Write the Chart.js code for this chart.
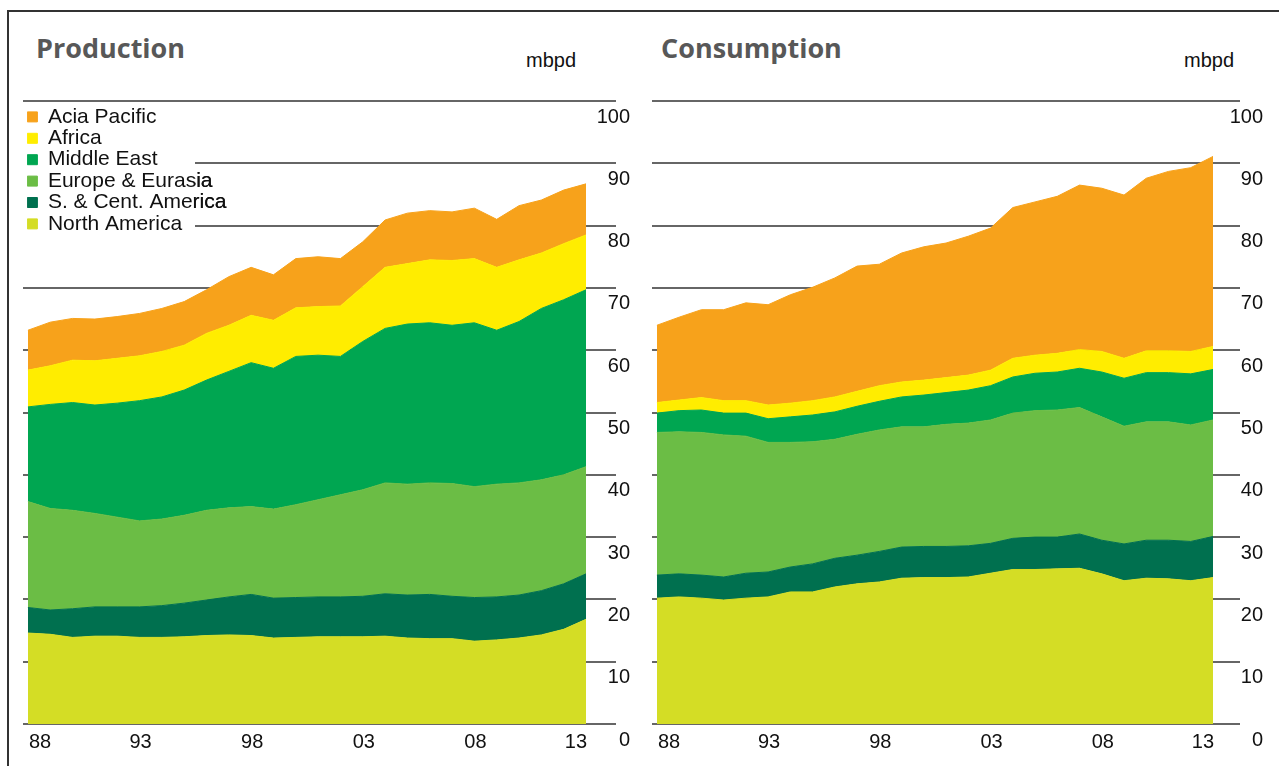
<!DOCTYPE html>
<html>
<head>
<meta charset="utf-8">
<title>Oil production and consumption</title>
<style>
  html, body { margin: 0; padding: 0; background: #fff; }
  body { width: 1279px; height: 766px; position: relative; overflow: hidden; }
  .frame { position: absolute; left: 7px; top: 10px; width: 1272px; height: 756px;
    border-top: 2px solid #333; border-left: 2px solid #333; box-sizing: border-box; }
  .title { position: absolute; font-family: "Open Sans", sans-serif; font-weight: bold;
    font-size: 27px; line-height: 1; color: #585858; white-space: nowrap; }
  .unit { position: absolute; font-family: "Liberation Sans", Arial, sans-serif;
    font-size: 20px; line-height: 1; color: #111; }
  canvas { position: absolute; }
</style>
</head>
<body>
<div class="frame"></div>
<div class="title" style="left:36px; top:34px;">Production</div>
<div class="unit" style="left:526px; top:50px;">mbpd</div>
<div class="title" style="left:661px; top:34px;">Consumption</div>
<div class="unit" style="left:1184px; top:50px;">mbpd</div>

<canvas id="prodChart" width="631" height="753" style="left:9px; top:13px;"></canvas>
<canvas id="consChart" width="637" height="753" style="left:642px; top:13px;"></canvas>

<script src="https://cdn.jsdelivr.net/npm/chart.js"></script>
<script>
  var years = [1988, 1989, 1990, 1991, 1992, 1993, 1994, 1995, 1996, 1997, 1998, 1999, 2000,
    2001, 2002, 2003, 2004, 2005, 2006, 2007, 2008, 2009, 2010, 2011, 2012, 2013];
  var tickYears = [1988, 1993, 1998, 2003, 2008, 2013];
  var yTicks = [0, 10, 20, 30, 40, 50, 60, 70, 80, 90, 100];

  var regions = ['North America', 'S. & Cent. America', 'Europe & Eurasia', 'Middle East', 'Africa', 'Acia Pacific'];
  var colors = ['#D4DD25', '#00704F', '#6BBD45', '#00A651', '#FFED00', '#F7A21B'];

  // production, mbpd
  var prodNorthAmerica = [14.6, 14.4, 13.9, 14.1, 14.1, 13.9, 13.9, 14.0, 14.2, 14.3, 14.2, 13.8, 13.9,
    14.0, 14.0, 14.0, 14.1, 13.8, 13.7, 13.7, 13.3, 13.5, 13.8, 14.3, 15.2, 16.8];
  var prodSCAmerica = [4.1, 3.9, 4.6, 4.7, 4.7, 4.9, 5.1, 5.4, 5.7, 6.1, 6.6, 6.4, 6.4,
    6.4, 6.4, 6.5, 6.8, 6.9, 7.1, 6.8, 7.0, 6.9, 6.9, 7.1, 7.3, 7.3];
  var prodEurope = [17.0, 16.3, 15.8, 15.0, 14.4, 13.8, 13.9, 14.1, 14.4, 14.3, 14.1, 14.3, 14.9,
    15.6, 16.4, 17.1, 17.8, 17.8, 17.9, 18.1, 17.8, 18.1, 18.0, 17.8, 17.5, 17.2];
  var prodMiddleEast = [15.2, 16.7, 17.3, 17.4, 18.3, 19.3, 19.6, 20.1, 20.9, 21.9, 23.1, 22.6, 23.8,
    23.2, 22.2, 23.8, 24.8, 25.7, 25.7, 25.4, 26.3, 24.7, 25.9, 27.5, 28.1, 28.4];
  var prodAfrica = [5.9, 6.2, 6.8, 7.1, 7.2, 7.2, 7.3, 7.2, 7.5, 7.4, 7.6, 7.7, 7.8,
    7.8, 8.1, 8.8, 9.8, 9.7, 10.1, 10.4, 10.3, 10.1, 9.9, 8.9, 9.0, 8.8];
  var prodAsia = [6.4, 7.0, 6.7, 6.7, 6.7, 6.8, 6.9, 7.0, 7.0, 7.8, 7.7, 7.3, 7.9,
    8.0, 7.6, 7.2, 7.6, 8.1, 7.9, 7.8, 8.1, 7.7, 8.7, 8.5, 8.6, 8.2];

  // consumption, mbpd
  var consNorthAmerica = [20.2, 20.4, 20.2, 19.9, 20.2, 20.4, 21.2, 21.2, 22.0, 22.5, 22.8, 23.4, 23.5,
    23.5, 23.6, 24.2, 24.8, 24.8, 24.9, 25.0, 24.1, 23.0, 23.4, 23.3, 23.0, 23.5];
  var consSCAmerica = [3.7, 3.7, 3.7, 3.7, 4.0, 4.0, 4.0, 4.5, 4.6, 4.6, 4.9, 5.0, 5.0,
    5.0, 5.0, 4.8, 5.0, 5.2, 5.1, 5.5, 5.4, 5.9, 6.1, 6.2, 6.3, 6.6];
  var consEurope = [22.9, 22.8, 22.9, 22.8, 22.0, 20.8, 20.0, 19.6, 19.1, 19.4, 19.5, 19.3, 19.2,
    19.6, 19.7, 19.8, 20.1, 20.3, 20.4, 20.3, 19.8, 18.9, 19.0, 19.0, 18.7, 18.7];
  var consMiddleEast = [3.1, 3.4, 3.6, 3.5, 3.7, 3.8, 4.1, 4.3, 4.4, 4.5, 4.6, 4.8, 5.1,
    5.1, 5.3, 5.5, 5.8, 6.0, 6.1, 6.3, 7.2, 7.7, 7.9, 7.9, 8.2, 8.1];
  var consAfrica = [1.7, 1.7, 2.0, 2.0, 2.0, 2.2, 2.2, 2.3, 2.4, 2.4, 2.5, 2.4, 2.4,
    2.4, 2.4, 2.5, 3.0, 2.9, 3.0, 3.0, 3.3, 3.2, 3.5, 3.5, 3.6, 3.7];
  var consAsia = [12.4, 13.3, 14.1, 14.6, 15.7, 16.1, 17.4, 18.2, 19.1, 20.1, 19.5, 20.7, 21.4,
    21.6, 22.3, 22.8, 24.2, 24.6, 25.2, 26.4, 26.2, 26.2, 27.7, 28.8, 29.5, 30.5];

  var textFont = 'Liberation Sans, Arial, sans-serif';

  // keeps the legend inside the plot (top left) and puts a white box behind it,
  // so the grid lines stop at the text
  var legendBackdrop = {
    id: 'legendBackdrop',
    afterLayout: function (chart) {
      var lg = chart.legend;
      if (!lg || !lg.options.display) return;
      var h = lg.bottom - lg.top;
      var w = lg.right - lg.left;
      lg.top = chart.chartArea.top + 5;
      lg.bottom = lg.top + h;
      lg.left = chart.chartArea.left + 4;
      lg.right = lg.left + w;
      lg.adjustHitBoxes();
    },
    beforeDatasetsDraw: function (chart) {
      var lg = chart.legend;
      if (!lg || !lg.options.display || !lg.legendHitBoxes || !lg.legendHitBoxes.length) return;
      var hb = lg.legendHitBoxes;
      var top = hb[0].top - 2;
      var bottom = hb[hb.length - 1].top + hb[hb.length - 1].height + 3;
      var ctx = chart.ctx;
      ctx.save();
      ctx.fillStyle = '#fff';
      ctx.fillRect(chart.chartArea.left - 1, top, 173, bottom - top);
      ctx.restore();
      lg.draw();
    }
  };

  function makeChart(id, series, opts) {
    var datasets = series.map(function (vals, i) {
      return {
        label: regions[i],
        data: years.map(function (yr, k) { return { x: yr, y: vals[k] }; }),
        backgroundColor: colors[i],
        borderColor: colors[i],
        borderWidth: 1,
        pointRadius: 0,
        tension: 0,
        fill: i === 0 ? 'origin' : '-1'
      };
    });

    return new Chart(document.getElementById(id), {
      type: 'line',
      data: { datasets: datasets },
      plugins: [legendBackdrop],
      options: {
        responsive: false,
        animation: false,
        layout: { padding: opts.padding },
        plugins: {
          tooltip: { enabled: false },
          legend: {
            display: opts.legend,
            position: 'chartArea',
            align: 'start',
            reverse: true,
            labels: {
              boxWidth: 10,
              boxHeight: 10,
              padding: 0.4,
              color: '#111',
              font: { size: 21, family: textFont }
            }
          }
        },
        scales: {
          x: {
            type: 'linear',
            min: 1987.78,
            max: 2013,
            grid: { display: false },
            border: { display: false },
            afterBuildTicks: function (s) {
              s.ticks = tickYears.map(function (v) { return { value: v }; });
            },
            afterFit: function (s) { s.height = 30; },
            ticks: {
              align: 'inner',
              autoSkip: false,
              maxRotation: 0,
              padding: -2,
              labelOffset: 1,
              color: '#111',
              font: { size: 20, family: textFont },
              callback: function (v) { return String(v).slice(2); }
            }
          },
          y: {
            stacked: true,
            position: 'right',
            min: 0,
            max: 100,
            border: { display: false },
            grid: { color: '#666', lineWidth: 2, tickLength: opts.tickLength },
            afterBuildTicks: function (s) {
              s.ticks = yTicks.map(function (v) { return { value: v }; });
            },
            afterFit: function (s) { s.width = opts.axisWidth; },
            ticks: {
              padding: opts.tickPadding,
              crossAlign: 'far',
              labelOffset: 16,
              color: '#111',
              font: { size: 20, family: textFont }
            }
          }
        }
      }
    });
  }

  makeChart('prodChart',
    [prodNorthAmerica, prodSCAmerica, prodEurope, prodMiddleEast, prodAfrica, prodAsia],
    { legend: true, padding: { left: 14, top: 88, right: 10, bottom: 12 }, tickLength: 30, axisWidth: 44, tickPadding: -19.4 });

  makeChart('consChart',
    [consNorthAmerica, consSCAmerica, consEurope, consMiddleEast, consAfrica, consAsia],
    { legend: false, padding: { left: 10, top: 88, right: 16, bottom: 12 }, tickLength: 27, axisWidth: 50, tickPadding: -10.4 });
</script>
</body>
</html>
